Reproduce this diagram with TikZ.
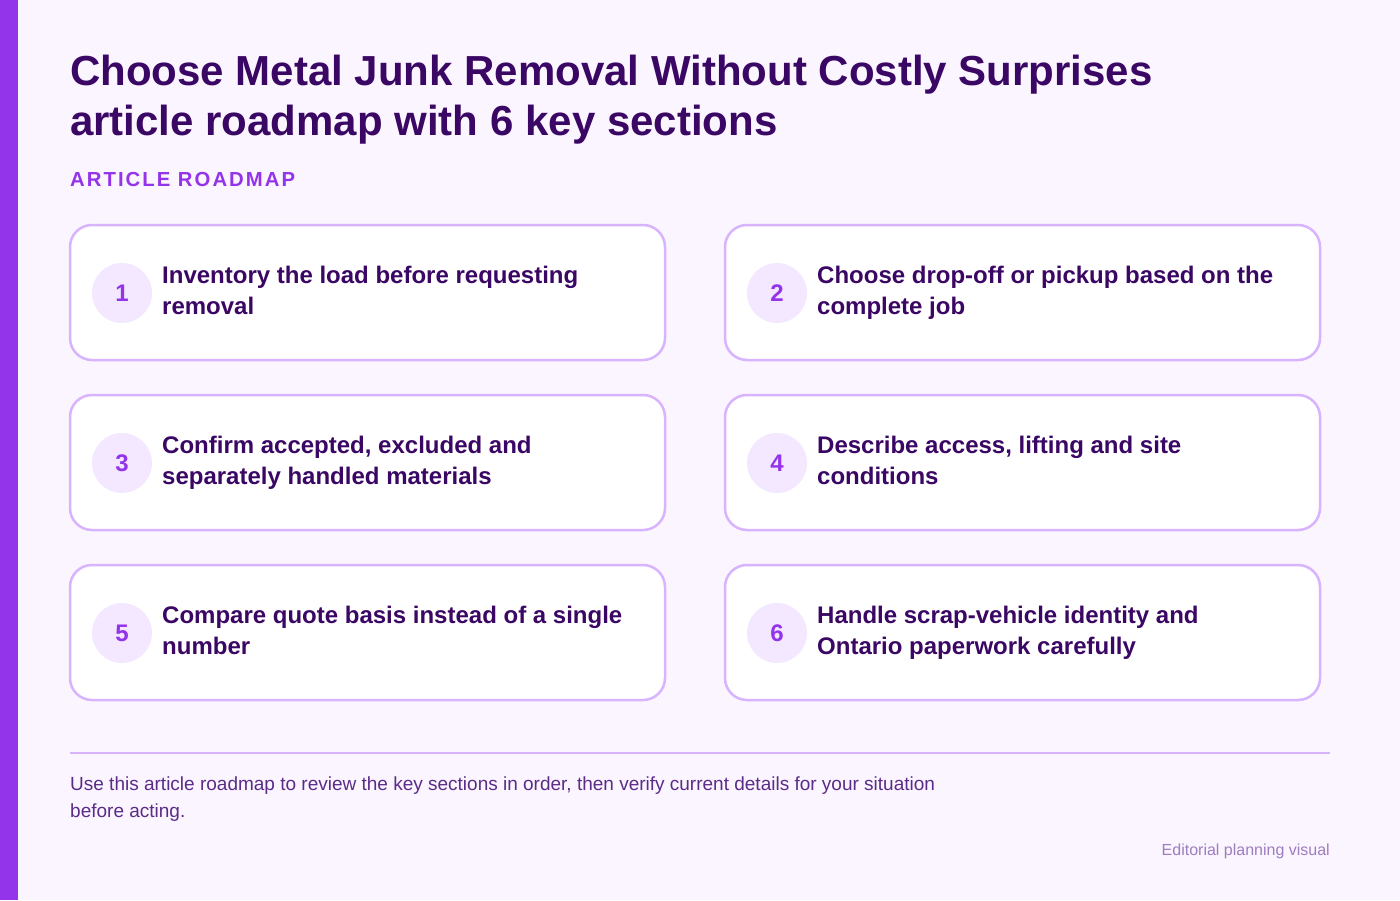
\documentclass[tikz,border=0pt]{standalone}
\usepackage{fontspec}
\setmainfont{Liberation Sans}
\newfontfamily\spacedfont[LetterSpace=10]{Liberation Sans}
\definecolor{bg}{HTML}{FAF5FF}
\definecolor{accent}{HTML}{9333EA}
\definecolor{deep}{HTML}{3B0764}
\definecolor{cardline}{HTML}{D8B4FE}
\definecolor{circfill}{HTML}{F3E8FF}
\definecolor{foot}{HTML}{5B2C87}
\definecolor{note}{HTML}{A07CC0}
\hyphenpenalty=10000
\exhyphenpenalty=10000
\begin{document}
\begin{tikzpicture}[x=1pt,y=-1pt,
  card/.style={draw=cardline,line width=2.5pt,fill=white,rounded corners=22pt},
  numcirc/.style={circle,fill=circfill,minimum size=60pt,inner sep=0pt,text=accent,font=\bfseries\fontsize{24}{28}\selectfont},
  cardtext/.style={anchor=base west,text width=462pt,align=flush left,text=deep,font=\bfseries\fontsize{24}{31}\selectfont,inner sep=0pt}
]
\fill[bg] (0,0) rectangle (1400,900);
\useasboundingbox (0,0) rectangle (1400,900);
\fill[accent] (0,0) rectangle (18,900);
\node[anchor=base west,inner sep=0pt,text=deep,font=\bfseries\fontsize{42}{50}\selectfont] (t1) at (70,85) {Choose Metal Junk Removal Without Costly Surprises};
\node[anchor=base west,inner sep=0pt,text=deep,font=\bfseries\fontsize{42}{50}\selectfont] (t2) at (70,135) {article roadmap with 6 key sections};
\node[anchor=base west,inner sep=0pt,text=accent,font=\spacedfont\bfseries\fontsize{20.3}{24}\selectfont] (sub) at (70,186) {ARTICLE ROADMAP};
\foreach \n/\x/\y/\txt in {
 1/70/225/{Inventory the load before requesting removal},
 2/725/225/{Choose drop-off or pickup based on the complete job},
 3/70/395/{Confirm accepted, excluded and separately handled materials},
 4/725/395/{Describe access, lifting and site conditions},
 5/70/565/{Compare quote basis instead of a single number},
 6/725/565/{Handle scrap-vehicle identity and Ontario paperwork carefully}} {
  \draw[card] (\x,\y) rectangle ++(595,135);
  \node[numcirc] (c\n) at (\x+52,\y+68) {\n};
  \node[cardtext] (l\n) at (\x+92,\y+58) {\txt};
}
\draw[cardline,line width=2.5pt] (70,753) -- (1330,753);
\node[anchor=base west,inner sep=0pt,text=foot,text width=880pt,align=flush left,font=\fontsize{19}{27}\selectfont] (f) at (70,790) {Use this article roadmap to review the key sections in order, then verify current details for your situation before acting.};
\node[anchor=base east,inner sep=0pt,text=note,font=\fontsize{16}{18}\selectfont] (ed) at (1330,855) {Editorial planning visual};
\end{tikzpicture}
\end{document}
